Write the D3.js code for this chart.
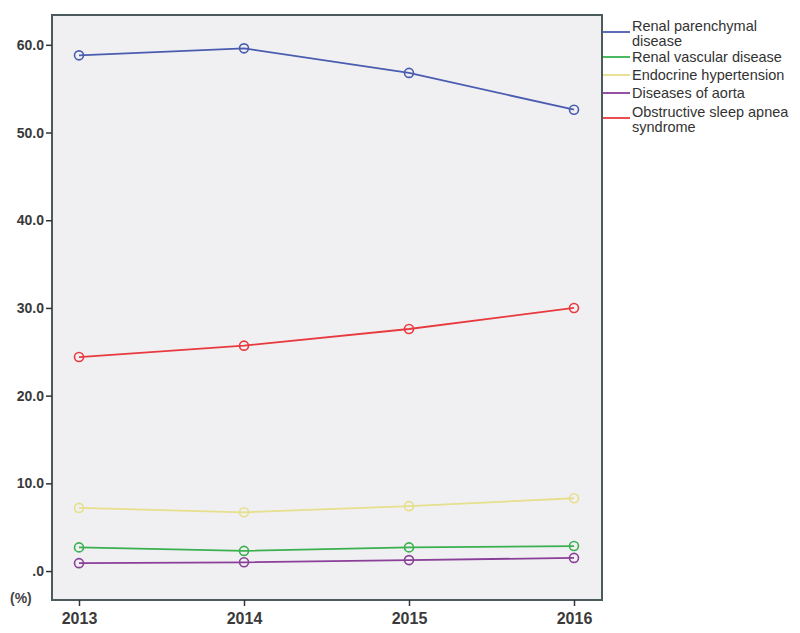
<!DOCTYPE html>
<html><head><meta charset="utf-8">
<script src="https://cdn.jsdelivr.net/npm/d3@7"></script>
<style>body{margin:0;background:#fff;font-family:"Liberation Sans",Arial,sans-serif;}</style>
</head><body>
<svg id="c" width="800" height="633"></svg>
<script>
const years = ["2013","2014","2015","2016"];
const seriesNames = ["Renal parenchymal disease","Renal vascular disease","Endocrine hypertension","Diseases of aorta","Obstructive sleep apnea syndrome"];
const renalParenchymal = [58.8, 59.6, 56.8, 52.6];
const renalVascular = [2.7, 2.3, 2.7, 2.85];
const endocrine = [7.2, 6.7, 7.4, 8.3];
const aorta = [0.9, 1.0, 1.25, 1.5];
const osa = [24.4, 25.7, 27.6, 30.0];
const yTicks = [0, 10, 20, 30, 40, 50, 60];
const colors = ["#4a5cb0", "#3ab04e", "#e6df8c", "#8a3f98", "#e83a3e"];
const legendLines = [["Renal parenchymal","disease"],["Renal vascular disease"],["Endocrine hypertension"],["Diseases of aorta"],["Obstructive sleep apnea","syndrome"]];

const allValues = [renalParenchymal, renalVascular, endocrine, aorta, osa];
const svg = d3.select("#c");
const L = 52, T = 15, R = 602, B = 600;
const x = d3.scalePoint().domain(years).range([79, 574]);
const y = d3.scaleLinear().domain([-3.3, 63.4]).range([B, T]);

svg.append("rect").attr("x", L).attr("y", T).attr("width", R - L).attr("height", B - T)
  .attr("fill", "#f0f0f3").attr("stroke", "#4b5a5c").attr("stroke-width", 2);

const fmt = d => d === 0 ? ".0" : d3.format(".1f")(d);
const ya = svg.append("g").attr("transform", `translate(${L},0)`)
  .call(d3.axisLeft(y).tickValues(yTicks).tickFormat(fmt).tickSize(6).tickSizeOuter(0));
ya.select(".domain").remove();
ya.selectAll("line").attr("stroke", "#333").attr("stroke-width", 1.5);
ya.selectAll("text").attr("font-size", 14).attr("fill", "#3a3a3a").attr("font-weight", "bold").attr("dx", 1);

const xa = svg.append("g").attr("transform", `translate(0,${B})`)
  .call(d3.axisBottom(x).tickSize(6).tickSizeOuter(0));
xa.select(".domain").remove();
xa.selectAll("line").attr("stroke", "#333").attr("stroke-width", 1.5);
xa.selectAll("text").attr("font-size", 16).attr("fill", "#3a3a3a").attr("font-weight", "bold").attr("dy", "0.95em");

svg.append("text").attr("x", 10).attr("y", 603).attr("font-size", 14).attr("font-weight", "bold").attr("fill", "#444").text("(%)");

const line = d3.line().x((d, i) => x(years[i])).y(d => y(d));
allValues.forEach((vals, k) => {
  svg.append("path").datum(vals).attr("d", line).attr("fill", "none")
    .attr("stroke", colors[k]).attr("stroke-width", 1.8);
  svg.selectAll(null).data(vals).enter().append("circle")
    .attr("cx", (d, i) => x(years[i])).attr("cy", d => y(d)).attr("r", 4.5)
    .attr("fill", "none").attr("stroke", colors[k]).attr("stroke-width", 1.6);
});

const legendY = [32, 57, 75, 93, 118];
legendLines.forEach((lines, k) => {
  svg.append("line").attr("x1", 603).attr("x2", 630).attr("y1", legendY[k]).attr("y2", legendY[k])
    .attr("stroke", colors[k]).attr("stroke-width", 1.8);
  const t = svg.append("text").attr("x", 632).attr("font-size", 14.5).attr("fill", "#333");
  const y0 = lines.length === 1 ? legendY[k] + 5 : legendY[k] - 1;
  lines.forEach((s, j) => t.append("tspan").attr("x", 632).attr("y", y0 + j * 15).text(s));
});
</script>
</body></html>
